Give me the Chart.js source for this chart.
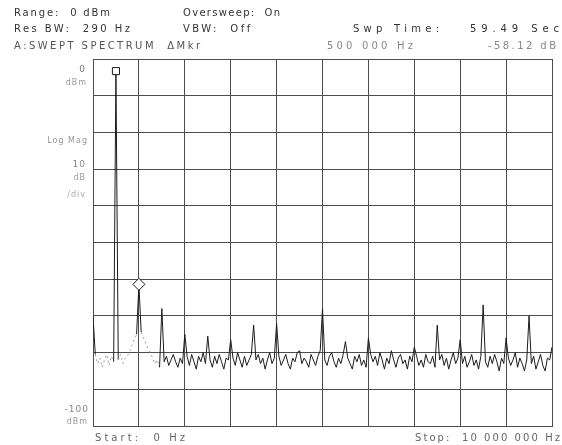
<!DOCTYPE html>
<html>
<head>
<meta charset="utf-8">
<script src="https://cdn.jsdelivr.net/npm/chart.js@4.4.1/dist/chart.umd.min.js"></script>
<style>
    html, body { margin: 0; padding: 0; background: #fff; }
    #wrap { position: relative; width: 562px; height: 445px; }
</style>
</head>
<body>
<div id="wrap"><canvas id="chart"></canvas></div>
<script>
// sweep settings (instrument)
const SWEEP_START_HZ = 0;
const SWEEP_STOP_HZ = 10000000;
const SWEEP_STEP_HZ = 50000;
const REF_LEVEL_DBM = 0;
const BOTTOM_LEVEL_DBM = -100;

// trace, one value every 50 kHz, rows of 500 kHz
const traceDbm = [
    -70.0, -80.5, -83.0, -81.5, -84.0, -82.0, -80.5, -83.5, -81.0, -82.5,
    -3.3, -82.0, -80.5, -83.0, -81.5, -81.0, -79.5, -78.0, -76.5, -75.0,
    -61.4, -74.5, -76.0, -77.5, -79.0, -80.0, -81.5, -83.0, -82.0, -84.0,
    -68.0, -82.5, -81.0, -83.5, -82.0, -80.5, -82.5, -84.0, -81.5, -83.0,
    -75.0, -81.0, -83.5, -80.5, -82.5, -84.5, -81.0, -82.5, -80.0, -83.0,
    -75.5, -82.0, -84.0, -81.0, -83.0, -80.5, -82.5, -84.5, -81.5, -82.0,
    -76.5, -81.5, -83.5, -80.0, -82.0, -84.0, -81.0, -83.5, -82.0, -80.5,
    -72.5, -82.0, -80.5, -83.0, -81.5, -84.5, -82.0, -80.0, -83.0, -81.5,
    -72.0, -81.0, -83.5, -82.0, -80.5, -83.0, -84.5, -81.5, -82.5, -80.0,
    -79.5, -83.0, -81.5, -82.5, -84.0, -80.5, -82.0, -83.5, -81.0, -79.5,
    -68.0, -82.0, -83.5, -81.0, -80.0, -82.5, -84.0, -81.5, -83.0, -80.5,
    -77.0, -81.5, -83.0, -84.5, -81.0, -82.5, -80.5, -83.5, -82.0, -84.0,
    -76.0, -80.5, -82.5, -81.0, -83.5, -80.0, -82.0, -84.5, -81.5, -83.0,
    -79.5, -82.0, -84.0, -81.5, -80.5, -83.0, -82.0, -84.5, -81.0, -82.5,
    -78.5, -81.0, -83.5, -82.0, -84.0, -80.5, -82.5, -83.0, -81.0, -84.0,
    -72.5, -82.0, -80.5, -83.5, -81.5, -84.5, -82.0, -80.0, -83.0, -81.5,
    -76.5, -83.0, -81.0, -84.0, -82.5, -80.5, -83.5, -82.0, -84.5, -81.0,
    -67.0, -82.5, -84.0, -81.0, -83.0, -80.5, -82.5, -85.0, -81.5, -83.0,
    -76.0, -81.5, -83.5, -82.0, -80.0, -84.0, -81.5, -83.0, -85.0, -82.0,
    -70.0, -83.0, -81.0, -84.5, -82.5, -80.5, -83.5, -85.0, -81.5, -82.0,
    -78.5
];

// markers
const refMarker = [{ x: 500000, y: -3.3 }];
const deltaMarker = [{ x: 1000000, y: -61.4 }];

const tracePoints = traceDbm.map((y, i) => ({ x: SWEEP_START_HZ + i * SWEEP_STEP_HZ, y }));

const INK = "#1c1c1c";
const GRID = "#4d4d4d";
const FADED_UNTIL_HZ = 1450000;
const SOLID_SPIKES = [0, 10, 20];

// the start of the trace printed faint on the original
function isFaint(ctx) {
    if (SOLID_SPIKES.includes(ctx.p0DataIndex) || SOLID_SPIKES.includes(ctx.p1DataIndex)) {
        return false;
    }
    return ctx.p0.parsed.x < FADED_UNTIL_HZ;
}

function fitText(ctx, text, x, y, width, color, size) {
    ctx.font = size + "px 'DejaVu Sans'";
    ctx.letterSpacing = "0px";
    const natural = ctx.measureText(text).width;
    const spacing = text.length > 1 ? (width - natural) / (text.length - 1) : 0;
    ctx.letterSpacing = spacing + "px";
    ctx.fillStyle = color;
    ctx.textAlign = "left";
    ctx.fillText(text, x, y);
}

function rightText(ctx, text, x, y, color, size) {
    ctx.font = size + "px 'DejaVu Sans'";
    ctx.letterSpacing = "1px";
    ctx.fillStyle = color;
    ctx.textAlign = "right";
    ctx.fillText(text, x, y);
}

const printoutText = {
    id: "printoutText",
    afterDraw(chart) {
        const ctx = chart.ctx;
        ctx.save();
        ctx.textBaseline = "alphabetic";
        fitText(ctx, "Range:  0 dBm", 14, 16, 96, "#333", 10);
        fitText(ctx, "Oversweep:  On", 183, 16, 97, "#333", 10);
        fitText(ctx, "Res BW:  290 Hz", 14, 32, 116, "#333", 10);
        fitText(ctx, "VBW:  Off", 183, 32, 67, "#333", 10);
        fitText(ctx, "Swp Time:", 353, 32, 86, "#333", 10);
        fitText(ctx, "59.49 Sec", 470, 32, 89, "#333", 10);
        fitText(ctx, "A:SWEPT SPECTRUM  \u0394Mkr", 14, 49, 186, "#555", 10);
        fitText(ctx, "500 000 Hz", 327, 49, 86, "#888", 10);
        fitText(ctx, "-58.12 dB", 488, 49, 68, "#888", 10);
        fitText(ctx, "Start:  0 Hz", 95, 441, 90, "#666", 10);
        fitText(ctx, "Stop:  10 000 000 Hz", 415, 441, 145, "#666", 10);

        rightText(ctx, "0", 86, 72, "#777", 9);
        rightText(ctx, "dBm", 87, 85, "#999", 8);
        rightText(ctx, "Log Mag", 88, 143, "#999", 8);
        rightText(ctx, "10", 86, 167, "#888", 9);
        rightText(ctx, "dB", 86, 180, "#999", 8);
        rightText(ctx, "/div", 86, 197, "#aaa", 8);
        rightText(ctx, "-100", 89, 412, "#888", 9);
        rightText(ctx, "dBm", 88, 424, "#999", 8);
        ctx.restore();
    },
};

new Chart(document.getElementById("chart"), {
    type: "line",
    data: {
        datasets: [
            {
                label: "Trace A",
                data: tracePoints,
                borderColor: INK,
                borderWidth: 1,
                pointRadius: 0,
                tension: 0,
                segment: {
                    borderColor: (ctx) => (isFaint(ctx) ? "#9a9a9a" : undefined),
                    borderDash: (ctx) => (isFaint(ctx) ? [2, 3] : undefined),
                },
                order: 2,
            },
            {
                type: "scatter",
                label: "Marker",
                data: refMarker,
                pointStyle: "rect",
                pointRadius: 5,
                borderColor: INK,
                borderWidth: 1,
                backgroundColor: "#fff",
                order: 1,
            },
            {
                type: "scatter",
                label: "Delta marker",
                data: deltaMarker,
                pointStyle: "rectRot",
                pointRadius: 6,
                borderColor: INK,
                borderWidth: 1,
                backgroundColor: "#fff",
                order: 1,
            },
        ],
    },
    options: {
        responsive: true,
        maintainAspectRatio: false,
        animation: false,
        layout: {
            padding: { left: 93, right: 10, top: 59, bottom: 19 },
        },
        plugins: {
            legend: { display: false },
            tooltip: { enabled: false },
        },
        scales: {
            x: {
                type: "linear",
                min: SWEEP_START_HZ,
                max: SWEEP_STOP_HZ,
                ticks: { display: false, stepSize: 1000000 },
                grid: { color: GRID, lineWidth: 1, drawTicks: false },
                border: { color: GRID },
            },
            y: {
                type: "linear",
                min: BOTTOM_LEVEL_DBM,
                max: REF_LEVEL_DBM,
                ticks: { display: false, stepSize: 10 },
                grid: { color: GRID, lineWidth: 1, drawTicks: false },
                border: { color: GRID },
            },
        },
    },
    plugins: [printoutText],
});
</script>
</body>
</html>
